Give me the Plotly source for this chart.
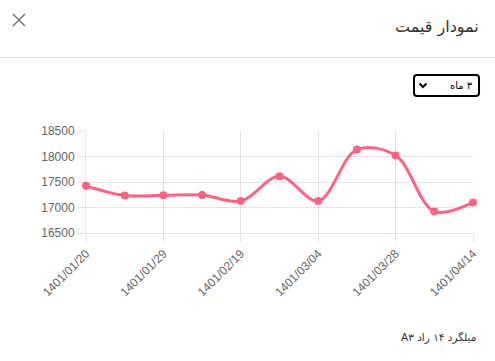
import plotly.graph_objects as go

dates = ["1401/01/20", "1401/01/24", "1401/01/29", "1401/02/05", "1401/02/19",
         "1401/02/26", "1401/03/04", "1401/03/11", "1401/03/28", "1401/04/04", "1401/04/14"]
prices = [17425, 17236, 17240, 17245, 17126, 17614, 17128, 18135, 18018, 16923, 17099]
shown_ticks = ["1401/01/20", "1401/01/29", "1401/02/19", "1401/03/04", "1401/03/28", "1401/04/14"]

title_text = "نمودار قیمت"
period_text = "۳ ماه"
product_text = "میلگرد ۱۴ راد A۳"

RLE, PDF = "\u202B", "\u202C"

W, H = 495, 361
L, R, T, B = 86, 473, 131, 233

def px(x):
    return (x - L) / (R - L)

def py(y):
    return (B - y) / (B - T)

fig = go.Figure()
fig.add_trace(go.Scatter(
    x=dates, y=prices, mode="lines+markers",
    line=dict(color="#ff6384", width=3, shape="spline", smoothing=1.0),
    marker=dict(color="#ff6384", size=8),
    cliponaxis=False,
    hoverinfo="skip",
))

grid = "rgba(0,0,0,0.1)"
fig.update_xaxes(
    type="category", tickvals=shown_ticks, ticktext=shown_ticks,
    tickangle=-45, showgrid=True, gridcolor=grid, gridwidth=1,
    ticks="outside", ticklen=8, tickcolor=grid,
    showline=True, linecolor=grid, linewidth=1, mirror=False,
    tickfont=dict(family="Liberation Sans, Arial", size=12, color="#666"),
    range=[0, len(dates) - 1], zeroline=False,
)
fig.update_yaxes(
    range=[16500, 18500], tickvals=[16500, 17000, 17500, 18000, 18500],
    showgrid=True, gridcolor=grid, gridwidth=1,
    ticks="outside", ticklen=8, tickcolor=grid,
    showline=True, linecolor=grid, linewidth=1,
    tickfont=dict(family="Liberation Sans, Arial", size=12, color="#666"),
    zeroline=False, tickformat="d",
)

shapes = []
shapes.append(dict(type="line", xref="paper", yref="paper",
                   x0=px(0), x1=px(W), y0=py(57.5), y1=py(57.5),
                   line=dict(color="#e2e2e2", width=1)))
for (a, b, c, d) in [(13, 14, 25, 26), (13, 26, 25, 14)]:
    shapes.append(dict(type="line", xref="paper", yref="paper",
                       x0=px(a), y0=py(b), x1=px(c), y1=py(d),
                       line=dict(color="#777", width=1.5)))
x0, x1, y0, y1, r = 414, 479, 75, 96, 3
path = (f"M {px(x0+r)},{py(y0)} L {px(x1-r)},{py(y0)} Q {px(x1)},{py(y0)} {px(x1)},{py(y0+r)} "
        f"L {px(x1)},{py(y1-r)} Q {px(x1)},{py(y1)} {px(x1-r)},{py(y1)} "
        f"L {px(x0+r)},{py(y1)} Q {px(x0)},{py(y1)} {px(x0)},{py(y1-r)} "
        f"L {px(x0)},{py(y0+r)} Q {px(x0)},{py(y0)} {px(x0+r)},{py(y0)} Z")
shapes.append(dict(type="path", xref="paper", yref="paper", path=path,
                   line=dict(color="#000", width=2)))
shapes.append(dict(type="path", xref="paper", yref="paper",
                   path=f"M {px(419.5)},{py(83.5)} L {px(423)},{py(87)} L {px(426.5)},{py(83.5)}",
                   line=dict(color="#000", width=2)))

annotations = [
    dict(text=RLE + title_text + PDF, xref="paper", yref="paper", x=px(481), y=py(27),
         xanchor="right", yanchor="middle", showarrow=False,
         font=dict(family="DejaVu Sans, Noto Sans", size=16, color="#333")),
    dict(text=RLE + period_text + PDF, xref="paper", yref="paper", x=px(475), y=py(85.5),
         xanchor="right", yanchor="middle", showarrow=False,
         font=dict(family="DejaVu Sans", size=10, color="#000")),
    dict(text=RLE + product_text + PDF, xref="paper", yref="paper", x=px(478), y=py(337),
         xanchor="right", yanchor="middle", showarrow=False,
         font=dict(family="DejaVu Sans", size=10.5, color="#333")),
]

fig.update_layout(
    width=W, height=H,
    margin=dict(l=L, r=W - R, t=T, b=H - B, autoexpand=False),
    paper_bgcolor="white", plot_bgcolor="white",
    showlegend=False, shapes=shapes, annotations=annotations,
)

fig.write_html("out.html", config={"displayModeBar": False},
               post_script="document.body.style.margin='0';document.body.style.padding='0';")
